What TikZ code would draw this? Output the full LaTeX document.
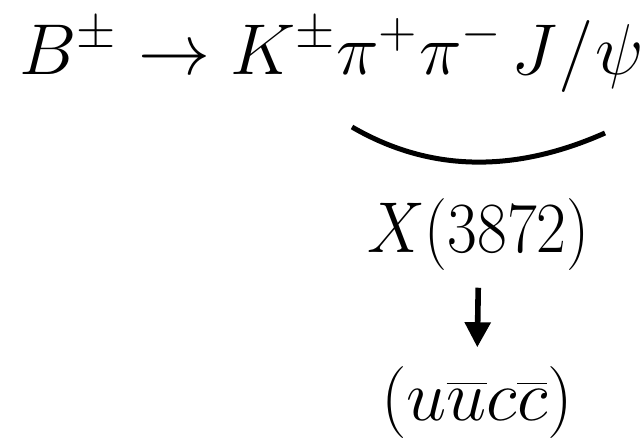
\RequirePackage{fix-cm}
\documentclass[tikz,border=0pt]{standalone}
\usetikzlibrary{arrows.meta}
\tikzset{
  formula/.style={inner sep=0pt, anchor=base, font=\fontsize{18}{22}\selectfont},
  brace/.style={line width=1.25pt, line cap=butt},
  decay/.style={line width=1.4pt, -{Triangle[width=6.25pt,length=6.25pt]}}
}
\begin{document}
\begin{tikzpicture}[x=0.25pt,y=-0.25pt]
\useasboundingbox (0,0) rectangle (643,441);
\node[formula] (top) at (332,74) {$B^\pm\to K^\pm\pi^+\pi^-\kern2pt J\kern0.5pt/\kern0.5pt\psi$};
\node[formula] (X) at (478.5,252) {\scalebox{0.9}[1]{$X(3872)$}};
\node[formula] (Q) at (477,420) {$(u\overline{u}c\overline{c})$};
\draw[brace] (352,127) .. controls (429,171.7) and (513.3,173.7) .. (605,133);
\draw[decay, shorten <=4.25pt, shorten >=4.5pt] (X.south) -- (Q.north);
\end{tikzpicture}
\end{document}
